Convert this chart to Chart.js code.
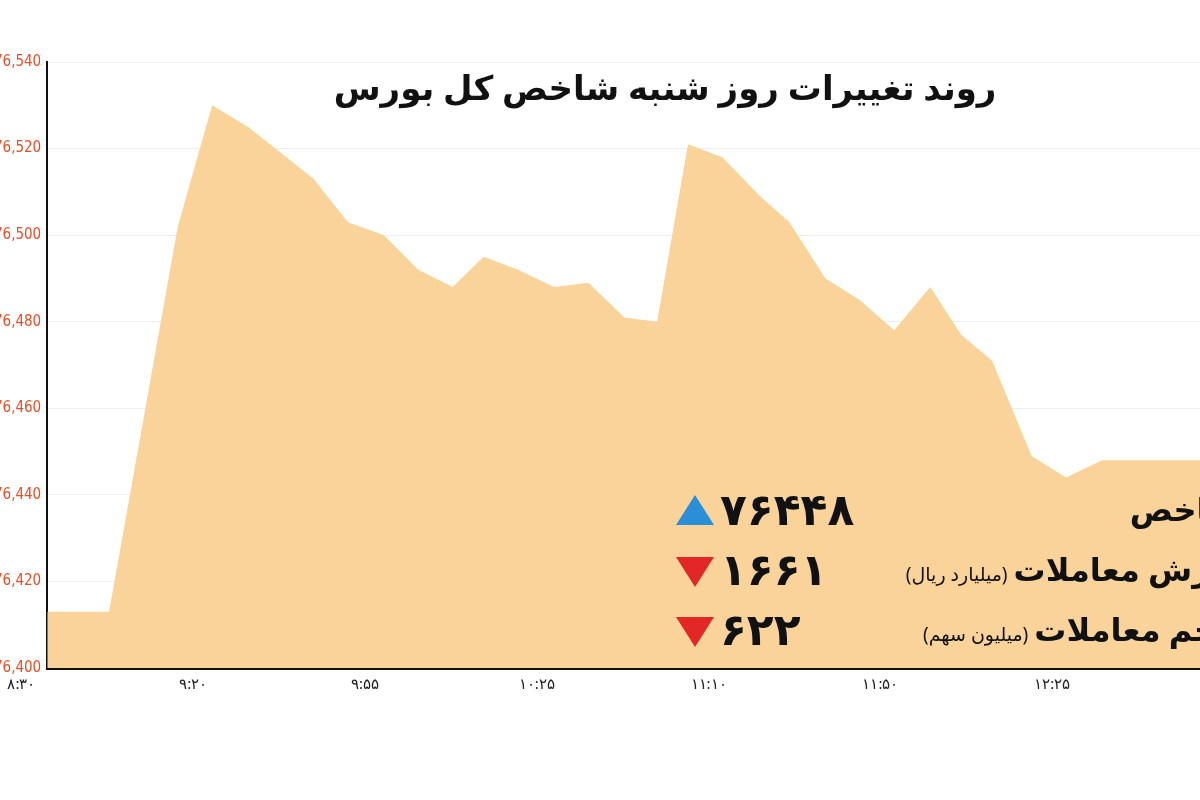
<!DOCTYPE html>
<html>
<head>
<meta charset="utf-8">
<script src="https://cdn.jsdelivr.net/npm/chart.js@4.4.0/dist/chart.umd.min.js"></script>
<style>
  body { margin: 0; background: #fff; overflow: hidden; }
  #wrap { position: absolute; left: -12px; top: 0; width: 1262px; height: 800px; }
</style>
</head>
<body>
<div id="wrap"><canvas id="c"></canvas></div>
<script>
// time labels (Persian digits); x position measured in label steps
const timeLabels = ['۸:۳۰', '۹:۲۰', '۹:۵۵', '۱۰:۲۵', '۱۱:۱۰', '۱۱:۵۰', '۱۲:۲۵', '۱۳:۰۰'];
const xPos = [0.15, 0.51, 0.91, 1.11, 1.32, 1.70, 1.90, 2.11, 2.31, 2.51, 2.69, 2.89, 3.10, 3.30,
  3.51, 3.70, 3.88, 4.08, 4.30, 4.47, 4.68, 4.88, 5.08, 5.29, 5.47, 5.65, 5.88, 6.08, 6.29, 6.90];
const indexValues = [76413, 76413, 76502, 76530, 76525, 76513, 76503, 76500, 76492, 76488, 76495,
  76492, 76488, 76489, 76481, 76480, 76521, 76518, 76509, 76503, 76490, 76485, 76478, 76488,
  76477, 76471, 76449, 76444, 76448, 76448];
const yTicks = [76400, 76420, 76440, 76460, 76480, 76500, 76520, 76540];

const title = 'روند تغییرات روز شنبه شاخص کل بورس';
const statNames = ['شاخص', 'ارزش معاملات', 'حجم معاملات'];
const statUnits = ['', '(میلیارد ریال)', '(میلیون سهم)'];
const statValues = ['۷۶۴۴۸', '۱۶۶۱', '۶۲۲'];
const statUp = [true, false, false];

const overlay = {
  id: 'overlay',
  afterDraw(chart) {
    const ctx = chart.ctx;
    ctx.save();
    ctx.fillStyle = '#111';
    ctx.direction = 'rtl';
    ctx.textAlign = 'center';
    ctx.textBaseline = 'middle';
    ctx.font = 'bold 34px "Noto Sans", "DejaVu Sans", sans-serif';
    ctx.fillText(title, 677, 90);

    const rowsY = [512, 572, 632];
    for (let i = 0; i < rowsY.length; i++) {
      const y = rowsY[i];
      ctx.fillStyle = statUp[i] ? '#2a8fd8' : '#e32626';
      ctx.beginPath();
      if (statUp[i]) {
        ctx.moveTo(707, y - 17); ctx.lineTo(726, y + 13); ctx.lineTo(688, y + 13);
      } else {
        ctx.moveTo(688, y - 15); ctx.lineTo(726, y - 15); ctx.lineTo(707, y + 15);
      }
      ctx.fill();
      ctx.fillStyle = '#111';
      ctx.direction = 'ltr';
      ctx.textAlign = 'left';
      ctx.font = 'bold 44px "Noto Sans", "DejaVu Sans", sans-serif';
      ctx.fillText(statValues[i], 732, y);
      ctx.direction = 'rtl';
      ctx.textAlign = 'right';
      ctx.font = 'bold 32px "Noto Sans", "DejaVu Sans", sans-serif';
      ctx.fillText(statNames[i], 1252, y);
      if (statUnits[i]) {
        const w = ctx.measureText(statNames[i]).width;
        ctx.font = '19px "Noto Sans", "DejaVu Sans", sans-serif';
        ctx.fillText(statUnits[i], 1252 - w - 6, y + 4);
      }
    }
    ctx.restore();
  }
};

new Chart(document.getElementById('c'), {
  type: 'line',
  data: {
    datasets: [{
      data: xPos.map((x, i) => ({ x: x, y: indexValues[i] })),
      fill: 'start',
      backgroundColor: '#fad39a',
      borderWidth: 0,
      pointRadius: 0,
      tension: 0
    }]
  },
  options: {
    responsive: true,
    maintainAspectRatio: false,
    animation: false,
    layout: { padding: { top: 62, bottom: 98, left: 0, right: 0 } },
    plugins: { legend: { display: false }, tooltip: { enabled: false } },
    scales: {
      x: {
        type: 'linear',
        min: 0.15, max: 7.05,
        afterBuildTicks: (axis) => { axis.ticks = timeLabels.map((_, i) => ({ value: i })); },
        ticks: {
          callback: (v) => timeLabels[v] || '',
          color: '#222',
          font: { size: 15, family: '"Noto Sans", sans-serif' },
          padding: 8
        },
        grid: { color: 'rgba(255,255,255,0.6)', drawTicks: false },
        border: { color: '#111', width: 3 }
      },
      y: {
        min: 76400, max: 76540,
        afterBuildTicks: (axis) => { axis.ticks = yTicks.map(v => ({ value: v })); },
        ticks: {
          color: '#e0502a',
          font: { size: 15, family: '"Liberation Sans Narrow", "DejaVu Sans Condensed", sans-serif' },
          padding: 6
        },
        grid: { color: '#eeeeee', drawTicks: false },
        border: { color: '#111', width: 2 }
      }
    }
  },
  plugins: [overlay]
});
</script>
</body>
</html>
